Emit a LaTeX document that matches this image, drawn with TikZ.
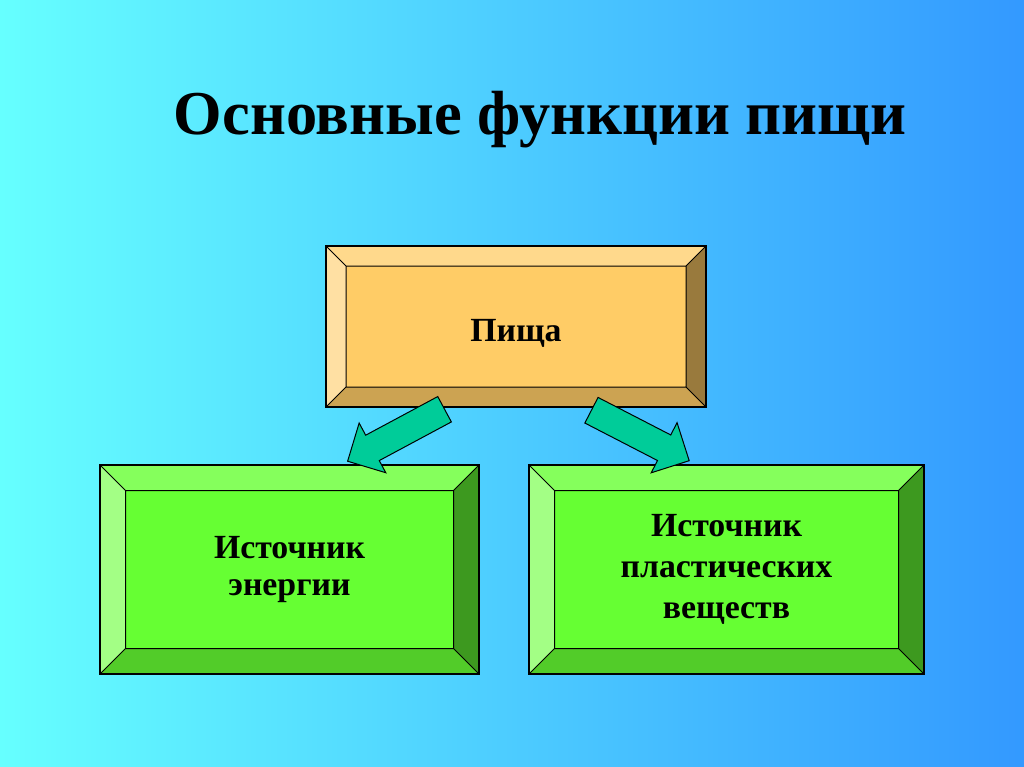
\documentclass[tikz,border=0pt]{standalone}
\usepackage{fontspec}
\setmainfont{Liberation Serif}
\usetikzlibrary{shapes.arrows}
\definecolor{bgL}{HTML}{66FFFF}
\definecolor{bgR}{HTML}{3399FF}
\definecolor{fface}{HTML}{FFCC66}
\definecolor{ftop}{HTML}{FFD98C}
\definecolor{fleft}{HTML}{FFE0A3}
\definecolor{fright}{HTML}{997A3D}
\definecolor{fbot}{HTML}{CCA352}
\definecolor{gface}{HTML}{66FF33}
\definecolor{gtop}{HTML}{85FF5C}
\definecolor{gleft}{HTML}{A3FF85}
\definecolor{gright}{HTML}{3D991F}
\definecolor{gbot}{HTML}{52CC29}
\definecolor{arrowfill}{HTML}{00CC99}
\tikzset{
  bevelbox/.style n args={2}{rectangle, draw=black, line width=1.3pt, fill=#1face,
    inner sep=0pt, align=center, font=\fontsize{33.8}{41}\selectfont\bfseries,
    path picture={
      \path (path picture bounding box.north west) coordinate (o1)
            (path picture bounding box.north east) coordinate (o2)
            (path picture bounding box.south east) coordinate (o3)
            (path picture bounding box.south west) coordinate (o4);
      \path ([shift={(#2,-#2)}]o1) coordinate (i1)
            ([shift={(-#2,-#2)}]o2) coordinate (i2)
            ([shift={(-#2,#2)}]o3) coordinate (i3)
            ([shift={(#2,#2)}]o4) coordinate (i4);
      \fill[#1top] (o1) -- (o2) -- (i2) -- (i1) -- cycle;
      \fill[#1left] (o1) -- (i1) -- (i4) -- (o4) -- cycle;
      \fill[#1right] (o2) -- (o3) -- (i3) -- (i2) -- cycle;
      \fill[#1bot] (o4) -- (i4) -- (i3) -- (o3) -- cycle;
      \draw[line width=1pt] (i1) rectangle (i3) (o1) -- (i1) (o2) -- (i2) (o3) -- (i3) (o4) -- (i4);
    }},
  blockarrow/.style={single arrow, draw=black, line width=1pt, fill=arrowfill,
    inner xsep=0pt, inner ysep=13.9pt, minimum height=110pt, minimum width=55pt,
    single arrow head extend=13.8pt, single arrow tip angle=90, anchor=tail}
}
\begin{document}
\begin{tikzpicture}[x=1pt,y=-1pt]
  \shade[left color=bgL, right color=bgR] (0,0) rectangle (1024,767);
  \useasboundingbox (0,0) rectangle (1024,767);
  \node[font=\fontsize{62.4}{70}\selectfont\bfseries] (title) at (540,120) {Основные функции пищи};
  \node[bevelbox={f}{20pt}, minimum width=380pt, minimum height=161pt] (food) at (516,326.5) {\raisebox{-14.5pt}[0pt][0pt]{Пища}};
  \node[bevelbox={g}{25.5pt}, minimum width=379pt, minimum height=209pt] (energy) at (289.5,569.5) {Источник\\[-4pt]энергии};
  \node[bevelbox={g}{25.5pt}, minimum width=395pt, minimum height=209pt] (plastic) at (726.5,569.5) {Источник\\пластических\\веществ};
  \node[blockarrow, rotate=208.2] (a1) at (445,409) {};
  \node[blockarrow, rotate=-27.3] (a2) at (591,410) {};
\end{tikzpicture}
\end{document}
